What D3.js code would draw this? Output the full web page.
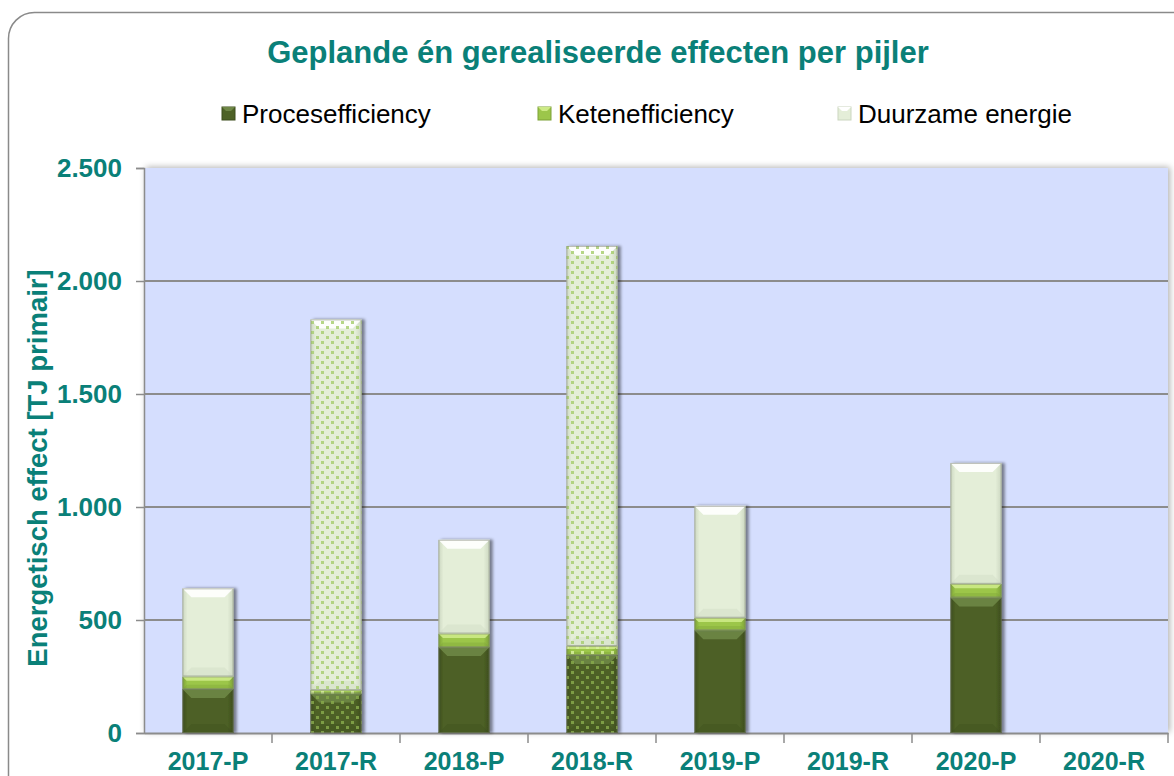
<!DOCTYPE html>
<html>
<head>
<meta charset="utf-8">
<script src="https://cdn.jsdelivr.net/npm/d3@7"></script>
<style>
  body { margin: 0; background: #fff; }
  text { font-family: "Liberation Sans", Arial, sans-serif; }
</style>
</head>
<body>
<div id="chart"></div>
<script>

// data (TJ primair)
var categories = ["2017-P", "2017-R", "2018-P", "2018-R", "2019-P", "2019-R", "2020-P", "2020-R"];
var proces   = [195, 175, 380, 345, 455, 0, 600, 0];
var keten    = [55, 15, 60, 40, 55, 0, 60, 0];
var duurzaam = [390, 1640, 415, 1770, 495, 0, 535, 0];
var seriesNames = ["Procesefficiency", "Ketenefficiency", "Duurzame energie"];
var yTicks = [0, 500, 1000, 1500, 2000, 2500];

var teal = "#0A8078";
var styles = [
  {base: "#4D6126", light: "#6F8747", dark: "#3C4C1C", dot: "#86A84A"},
  {base: "#9CC64A", light: "#CDEA86", dark: "#7CA136", dot: "#D8F0A0"},
  {base: "#E4EED8", light: "#FFFFFF", dark: "#CBD6C0", dot: "#A9CF72"}
];

var width = 1174, height = 776;
var plot = {left: 144, right: 1168, top: 168, bottom: 733};

var svg = d3.select("#chart").append("svg")
  .attr("width", width)
  .attr("height", height);

var defs = svg.append("defs");

var shadow = defs.append("filter").attr("id", "shadow")
  .attr("x", "-10%").attr("y", "-10%").attr("width", "130%").attr("height", "130%");
shadow.append("feDropShadow")
  .attr("dx", 3).attr("dy", 0).attr("stdDeviation", 1.8)
  .attr("flood-color", "#000").attr("flood-opacity", 0.45);

var plotShadow = defs.append("filter").attr("id", "plotShadow")
  .attr("x", "-5%").attr("y", "-5%").attr("width", "110%").attr("height", "110%");
plotShadow.append("feDropShadow")
  .attr("dx", 2).attr("dy", -1).attr("stdDeviation", 3)
  .attr("flood-color", "#000").attr("flood-opacity", 0.3);

// side shading gradients + dot patterns, one per series
styles.forEach(function(s, i) {
  var g = defs.append("linearGradient").attr("id", "side" + i)
    .attr("x1", "0%").attr("x2", "100%").attr("y1", "0%").attr("y2", "0%");
  g.append("stop").attr("offset", "0%").attr("stop-color", s.dark);
  g.append("stop").attr("offset", "10%").attr("stop-color", s.base);
  g.append("stop").attr("offset", "88%").attr("stop-color", s.base);
  g.append("stop").attr("offset", "100%").attr("stop-color", s.dark);

  var p = defs.append("pattern").attr("id", "dots" + i)
    .attr("patternUnits", "userSpaceOnUse")
    .attr("width", 10).attr("height", 10);
  p.append("rect").attr("x", 1).attr("y", 1).attr("width", 3).attr("height", 3)
    .attr("fill", s.dot).attr("opacity", 0.85);
  p.append("rect").attr("x", 6).attr("y", 6).attr("width", 3).attr("height", 3)
    .attr("fill", s.dot).attr("opacity", 0.85);
});

// outer frame
svg.append("rect")
  .attr("x", 8.5).attr("y", 12.5)
  .attr("width", 1200).attr("height", 800)
  .attr("rx", 26)
  .attr("fill", "#fff")
  .attr("stroke", "#8a8a8a")
  .attr("stroke-width", 1.5);

// scales
var x = d3.scaleBand()
  .domain(categories)
  .range([plot.left, plot.right])
  .padding(0);

var y = d3.scaleLinear()
  .domain([0, 2500])
  .range([plot.bottom, plot.top]);

var barW = x.bandwidth() * 0.4;

// plot area
svg.append("rect")
  .attr("x", plot.left).attr("y", plot.top)
  .attr("width", plot.right - plot.left)
  .attr("height", plot.bottom - plot.top)
  .attr("fill", "#D5DEFE")
  .attr("filter", "url(#plotShadow)");

// gridlines
svg.append("g").selectAll("line")
  .data(yTicks.filter(function(d) { return d > 0 && d < 2500; }))
  .enter().append("line")
    .attr("x1", plot.left).attr("x2", plot.right)
    .attr("y1", function(d) { return y(d); })
    .attr("y2", function(d) { return y(d); })
    .attr("stroke", "#8c8c8c")
    .attr("stroke-width", 2);

// y axis
var yAxis = d3.axisLeft(y)
  .tickValues(yTicks)
  .tickSize(8)
  .tickPadding(14)
  .tickFormat(function(d) { return d3.format(",")(d).replace(/,/g, "."); });

var yg = svg.append("g")
  .attr("transform", "translate(" + plot.left + ",0)")
  .call(yAxis);
yg.select(".domain").attr("stroke", "#8c8c8c").attr("stroke-width", 1.5);
yg.selectAll(".tick line").attr("stroke", "#8c8c8c").attr("stroke-width", 1.5);
yg.selectAll(".tick text")
  .attr("fill", teal)
  .style("font-size", "26px")
  .style("font-weight", "bold")
  .style("font-family", "Liberation Sans, Arial, sans-serif");

// x axis
var xAxis = d3.axisBottom(x).tickSize(0).tickPadding(19);
var xg = svg.append("g")
  .attr("transform", "translate(0," + plot.bottom + ")")
  .call(xAxis);
xg.select(".domain").attr("stroke", "#8c8c8c").attr("stroke-width", 2);
xg.selectAll(".tick text")
  .attr("fill", teal)
  .style("font-size", "25px")
  .style("font-weight", "bold")
  .style("font-family", "Liberation Sans, Arial, sans-serif");

// tick marks between categories
xg.selectAll(".sep")
  .data(categories)
  .enter().append("line")
    .attr("class", "sep")
    .attr("x1", function(d) { return x(d) + x.bandwidth(); })
    .attr("x2", function(d) { return x(d) + x.bandwidth(); })
    .attr("y1", 0).attr("y2", 10)
    .attr("stroke", "#8c8c8c")
    .attr("stroke-width", 1.5);

// stack the series
var rows = categories.map(function(c, i) {
  return {cat: c, s0: proces[i], s1: keten[i], s2: duurzaam[i]};
});
var stack = d3.stack().keys(["s0", "s1", "s2"]);
var layers = stack(rows);

var segs = [];
layers.forEach(function(layer, si) {
  layer.forEach(function(d) {
    if (d[1] - d[0] > 0) {
      segs.push({si: si, cat: d.data.cat, y0: d[0], y1: d[1], realised: /-R$/.test(d.data.cat)});
    }
  });
});

var bars = svg.append("g").attr("class", "bars");

// bar bodies with shadow
bars.selectAll("g.bar")
  .data(categories.filter(function(c, i) { return proces[i] + keten[i] + duurzaam[i] > 0; }))
  .enter().append("g")
    .attr("class", "bar")
    .attr("filter", "url(#shadow)")
    .each(function(cat) {
      var g = d3.select(this);
      var mine = segs.filter(function(s) { return s.cat == cat; });
      var x0 = x(cat) + (x.bandwidth() - barW) / 2;

      mine.forEach(function(s) {
        var st = styles[s.si];
        var top = y(s.y1), bot = y(s.y0), h = bot - top;
        var b = Math.min(9, h / 3);

        g.append("rect")
          .attr("x", x0).attr("y", top)
          .attr("width", barW).attr("height", h)
          .attr("fill", "url(#side" + s.si + ")");

        // top bevel
        g.append("polygon")
          .attr("points", [[x0, top], [x0 + barW, top], [x0 + barW - b, top + b], [x0 + b, top + b]].join(" "))
          .attr("fill", st.light)
          .attr("opacity", 0.9);

        // bottom bevel
        g.append("polygon")
          .attr("points", [[x0, bot], [x0 + barW, bot], [x0 + barW - b, bot - b], [x0 + b, bot - b]].join(" "))
          .attr("fill", st.dark)
          .attr("opacity", 0.35);

        if (s.realised) {
          g.append("rect")
            .attr("x", x0).attr("y", top)
            .attr("width", barW).attr("height", h)
            .attr("fill", "url(#dots" + s.si + ")");
        }

        g.append("rect")
          .attr("x", x0 + 0.5).attr("y", top + 0.5)
          .attr("width", barW - 1).attr("height", Math.max(0, h - 1))
          .attr("fill", "none")
          .attr("stroke", "#7a8070")
          .attr("stroke-opacity", 0.5);
      });
    });

// title
svg.append("text")
  .attr("x", 598).attr("y", 63)
  .attr("text-anchor", "middle")
  .attr("fill", teal)
  .style("font-size", "31px")
  .style("font-weight", "bold")
  .text("Geplande én gerealiseerde effecten per pijler");

// y axis title
svg.append("text")
  .attr("transform", "translate(47,468)rotate(-90)")
  .attr("text-anchor", "middle")
  .attr("fill", teal)
  .style("font-size", "27.5px")
  .style("font-weight", "bold")
  .text("Energetisch effect [TJ primair]");

// legend
var legendX = [222, 538, 838];
var legend = svg.append("g").selectAll("g")
  .data(seriesNames)
  .enter().append("g")
    .attr("transform", function(d, i) { return "translate(" + legendX[i] + ",107)"; });

legend.append("rect")
  .attr("width", 13).attr("height", 13)
  .attr("fill", function(d, i) { return styles[i].base; })
  .attr("stroke", function(d, i) { return styles[i].dark; });

legend.append("polygon")
  .attr("points", "0,0 13,0 9,4 4,4")
  .attr("fill", function(d, i) { return styles[i].light; });

legend.append("text")
  .attr("x", 20).attr("y", 16)
  .attr("fill", "#000")
  .style("font-size", "26px")
  .text(function(d) { return d; });

</script>
</body>
</html>
